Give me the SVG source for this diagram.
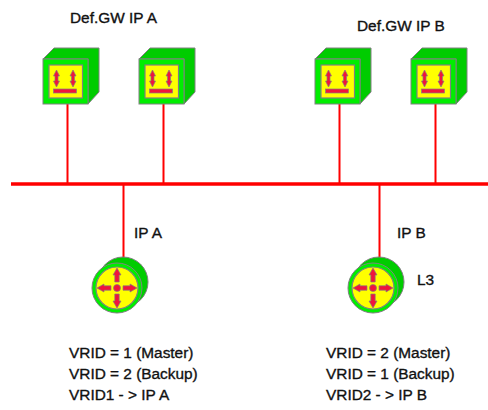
<svg xmlns="http://www.w3.org/2000/svg" xmlns:xlink="http://www.w3.org/1999/xlink" width="488" height="410" viewBox="0 0 488 410">
<style>
text{font-family:"Liberation Sans",Arial,sans-serif;font-size:15.4px;fill:#111;stroke:#111;stroke-width:.35}
.l{stroke:#f00;stroke-width:2;fill:none}
.g{fill:#0e0;stroke:#808080;stroke-width:1}
.d{fill:#0c0;stroke:#808080;stroke-width:1}
.y{fill:#ff0;stroke:#808080;stroke-width:1.200}
.r{fill:#f0143c;stroke:#808080;stroke-width:.7}
</style>
<defs>
<g id="sw">
<path class="d" d="M0 11L11 0H56V44L45 56V11Z"/>
<rect class="g" x="0" y="11" width="45" height="45"/>
<rect class="y" x="6" y="17" width="33.500" height="33"/>
<path class="r" d="M13.500 22l3 6h-1.500v5h1.500l-3 6l-3-6h1.500v-5h-1.500z"/>
<path class="r" d="M30 22l3 6h-1.500v5h1.500l-3 6l-3-6h1.500v-5h-1.500z"/>
<rect class="r" x="10.500" y="41" width="23" height="4"/>
</g>
<g id="rt">
<circle class="d" cx="6" cy="-6" r="25"/>
<circle class="g" r="25"/>
<circle class="y" r="21"/>
<path class="r" d="M-2.200 -6V-13H-4L0 -20L4 -13H2.200V-6Z"/>
<path class="r" d="M-2.200 6V13H-4L0 20L4 13H2.200V6Z"/>
<path class="r" d="M-6 -2.200H-13V-4L-20 0L-13 4V2.200H-6Z"/>
<path class="r" d="M6 -2.200H13V-4L20 0L13 4V2.200H6Z"/>
<circle class="r" r="3.500"/>
</g>
</defs>
<g id="connectors">
<path d="M11 184H488" stroke="#f00" stroke-width="3.500" fill="none"/>
<path class="l" d="M67.500 104V184M163.500 104V184M339.500 104V184M435.500 104V184M123.500 184V258M379.500 184V258"/>
</g>
<g id="sw1"><use href="#sw" xlink:href="#sw" x="43" y="48"/></g>
<g id="sw2"><use href="#sw" xlink:href="#sw" x="139" y="48"/></g>
<g id="sw3"><use href="#sw" xlink:href="#sw" x="315" y="48"/></g>
<g id="sw4"><use href="#sw" xlink:href="#sw" x="411" y="48"/></g>
<g id="router-a"><use href="#rt" xlink:href="#rt" x="117" y="288"/></g>
<g id="router-b"><use href="#rt" xlink:href="#rt" x="373" y="288"/></g>
<g id="labels">
<text x="70" y="23">Def.GW IP A</text>
<text x="357" y="31">Def.GW IP B</text>
<text x="134" y="238">IP A</text>
<text x="397" y="238">IP B</text>
<text x="417" y="285">L3</text>
<text x="69" y="358">VRID = 1 (Master)</text>
<text x="69" y="379">VRID = 2 (Backup)</text>
<text x="69" y="399.500">VRID1 - &gt; IP A</text>
<text x="326" y="358">VRID = 2 (Master)</text>
<text x="326" y="379">VRID = 1 (Backup)</text>
<text x="326" y="399.500">VRID2 - &gt; IP B</text>
</g>
</svg>
